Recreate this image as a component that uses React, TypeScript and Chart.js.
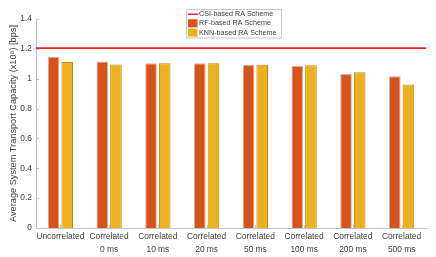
import React, { useEffect, useRef } from "react";
import { Chart, registerables } from "chart.js";

Chart.register(...registerables);

const categories: string[][] = [
  ["Uncorrelated"],
  ["Correlated", "0 ms"],
  ["Correlated", "10 ms"],
  ["Correlated", "20 ms"],
  ["Correlated", "50 ms"],
  ["Correlated", "100 ms"],
  ["Correlated", "200 ms"],
  ["Correlated", "500 ms"],
];
const rfValues = [1.147, 1.116, 1.103, 1.103, 1.094, 1.087, 1.031, 1.016];
const knnValues = [1.112, 1.096, 1.103, 1.103, 1.094, 1.09, 1.043, 0.962];
const csiValue = 1.205;
const yTicks = [0, 0.2, 0.4, 0.6, 0.8, 1, 1.2, 1.4];
const legendLabels = ["CSI-based RA Scheme", "RF-based RA Scheme", "KNN-based RA Scheme"];

const RF_COLOR = "#D95319";
const KNN_COLOR = "#EDB120";
const CSI_COLOR = "#FF1A1A";
const AXIS_COLOR = "#c4c4c4";
const TEXT_COLOR = "#404040";
const FONT = "Liberation Sans, Arial, Helvetica, sans-serif";

const overlayPlugin = {
  id: "overlay",
  afterDatasetsDraw(chart: any) {
    const { ctx, chartArea, scales } = chart;
    const y = scales.y;
    const x = scales.x;
    ctx.save();
    // inward tick marks
    ctx.strokeStyle = AXIS_COLOR;
    ctx.lineWidth = 1;
    yTicks.forEach((v) => {
      const py = Math.round(y.getPixelForValue(v)) + 0.5;
      ctx.beginPath();
      ctx.moveTo(chartArea.left, py);
      ctx.lineTo(chartArea.left + 3, py);
      ctx.stroke();
    });
    categories.forEach((_, i) => {
      const px = Math.round(x.getPixelForValue(i)) + 0.5;
      ctx.beginPath();
      ctx.moveTo(px, chartArea.bottom);
      ctx.lineTo(px, chartArea.bottom - 3);
      ctx.stroke();
    });
    // CSI reference line
    const cy = y.getPixelForValue(csiValue);
    ctx.strokeStyle = CSI_COLOR;
    ctx.lineWidth = 1.6;
    ctx.beginPath();
    ctx.moveTo(chartArea.left, cy);
    ctx.lineTo(chartArea.right, cy);
    ctx.stroke();

    // legend
    const lx = 186.5, ly = 9.5, lw = 95, lh = 28.5;
    ctx.fillStyle = "#ffffff";
    ctx.fillRect(lx, ly, lw, lh);
    ctx.strokeStyle = "#c8c8c8";
    ctx.lineWidth = 1;
    ctx.strokeRect(lx, ly, lw, lh);
    ctx.font = `7.2px ${FONT}`;
    ctx.textBaseline = "middle";
    ctx.textAlign = "left";
    const rows = [14.3, 23.3, 32.6];
    ctx.strokeStyle = CSI_COLOR;
    ctx.lineWidth = 1.4;
    ctx.beginPath();
    ctx.moveTo(188, rows[0]);
    ctx.lineTo(198.5, rows[0]);
    ctx.stroke();
    ctx.fillStyle = RF_COLOR;
    ctx.fillRect(188, rows[1] - 4, 9.5, 8);
    ctx.fillStyle = KNN_COLOR;
    ctx.fillRect(188, rows[2] - 4, 9.5, 8);
    ctx.fillStyle = TEXT_COLOR;
    legendLabels.forEach((t, i) => ctx.fillText(t, 199, rows[i]));
    ctx.restore();
  },
};

export default function App() {
  const ref = useRef<HTMLCanvasElement>(null);
  useEffect(() => {
    document.body.style.margin = "0";
    const canvas = ref.current!;
    const chart = new Chart(canvas, {
      type: "bar",
      data: {
        labels: categories,
        datasets: [
          {
            label: legendLabels[1],
            data: rfValues,
            backgroundColor: RF_COLOR,
            borderColor: "#b9b9b9",
            borderWidth: 1,
            categoryPercentage: 0.56,
            barPercentage: 0.85,
          },
          {
            label: legendLabels[2],
            data: knnValues,
            backgroundColor: KNN_COLOR,
            borderColor: "#b58a10",
            borderWidth: 1,
            categoryPercentage: 0.56,
            barPercentage: 0.85,
          },
        ],
      },
      options: {
        animation: false,
        responsive: false,
        devicePixelRatio: 1,
        layout: { padding: { left: 0, right: 10, top: 19, bottom: 0 } },
        plugins: {
          legend: { display: false },
          tooltip: { enabled: false },
        },
        scales: {
          x: {
            grid: { display: false, drawTicks: false },
            border: { display: true, color: AXIS_COLOR, width: 1 },
            ticks: {
              color: TEXT_COLOR,
              font: { family: FONT, size: 8.4, lineHeight: 1.45 },
              padding: 3,
              maxRotation: 0,
              autoSkip: false,
            },
            afterFit: (s: any) => {
              s.height = 29;
            },
          },
          y: {
            min: 0,
            max: 1.4,
            grid: { display: false, drawTicks: false },
            border: { display: true, color: AXIS_COLOR, width: 1 },
            afterBuildTicks: (s: any) => {
              s.ticks = yTicks.map((v) => ({ value: v }));
            },
            ticks: {
              color: TEXT_COLOR,
              font: { family: FONT, size: 8.4 },
              padding: 4,
              callback: (v: any) => String(Number(Number(v).toFixed(1))),
            },
            title: {
              display: true,
              text: "Average System Transport Capacity (x10\u2078) [bps]",
              color: TEXT_COLOR,
              font: { family: FONT, size: 9.2, lineHeight: 1.2 },
              padding: { top: 8, bottom: 0 },
            },
            afterFit: (s: any) => {
              s.width = 36;
            },
          },
        },
      },
      plugins: [overlayPlugin],
    });
    return () => chart.destroy();
  }, []);
  return (
    <div style={{ width: 436, height: 257 }}>
      <canvas ref={ref} width={436} height={257} style={{ display: "block" }} />
    </div>
  );
}
